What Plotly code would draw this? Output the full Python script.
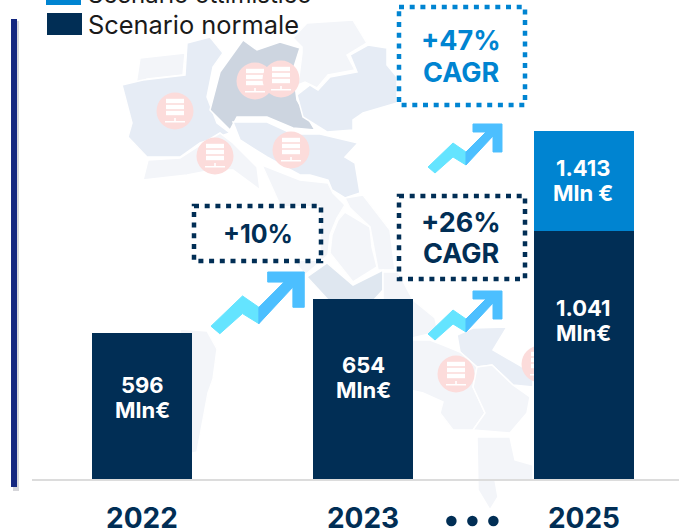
import plotly.graph_objects as go

W, H = 679, 532
FONT = "Inter, 'Open Sans', sans-serif"
NAVY = "#012e55"
BLUE = "#0084d1"

years = ["2022", "2023", "2025"]
normal_drawn = [596, 734, 1010]
optimistic_drawn = [0, 0, 405]
series_names = ["Scenario normale", "Scenario ottimistico"]
bar_labels = [["596", "Mln€"], ["654", "Mln€"], ["1.041", "Mln€"], ["1.413", "Mln €"]]
growth_labels = [["+10%"], ["+26%", "CAGR"], ["+47%", "CAGR"]]

Y_SCALE = 0.2466  # pixels per unit on the value axis
Y_MIN, Y_MAX = -52 / Y_SCALE, 480 / Y_SCALE


def px(x):
    return x / W


def py(y):
    return 1 - y / H


def poly(points, fill, line="white", lw=1.5, layer="below"):
    d = "M" + " L".join(f"{px(x):.5f},{py(y):.5f}" for x, y in points) + " Z"
    return dict(type="path", xref="paper", yref="paper", path=d, fillcolor=fill,
                line=dict(color=line, width=lw), layer=layer)


def rect(x0, y0, x1, y1, fill, line=None, lw=0, layer="below", dash=None):
    ln = dict(width=lw)
    if line:
        ln["color"] = line
    if dash:
        ln["dash"] = dash
    return dict(type="rect", xref="paper", yref="paper", x0=px(x0), x1=px(x1),
                y0=py(y0), y1=py(y1), fillcolor=fill, line=ln, layer=layer)


def circle(cx, cy, r, fill, layer="below"):
    return dict(type="circle", xref="paper", yref="paper", x0=px(cx - r), x1=px(cx + r),
                y0=py(cy - r), y1=py(cy + r), fillcolor=fill, line=dict(width=0), layer=layer)


PALE = "#f3f5f9"
MID = "#e6ecf5"
DARK = "#cdd5e0"
regions = [
    ([(140, 58), (185, 53), (183, 75), (147, 79), (136, 85)], PALE),
    ([(122, 85), (143, 80), (185, 75), (187, 43), (210, 37), (223, 53), (213, 67), (207, 97), (217, 123), (230, 133), (200, 143), (180, 157), (147, 157), (128, 137), (132, 123)], MID),
    ([(210, 110), (220, 72), (243, 40), (257, 50), (280, 42), (300, 48), (293, 70), (297, 100), (315, 130), (293, 128), (267, 117), (237, 117), (230, 130)], DARK),
    ([(302, 47), (293, 38), (307, 23), (353, 20), (367, 43), (347, 55), (355, 70), (328, 75), (317, 88), (305, 82), (298, 85), (302, 53)], PALE),
    ([(297, 95), (310, 85), (318, 90), (330, 77), (357, 72), (350, 55), (368, 45), (387, 48), (387, 65), (397, 77), (397, 103), (363, 113), (353, 120), (353, 130), (327, 132), (303, 117)], MID),
    ([(233, 122), (267, 122), (293, 134), (320, 134), (358, 143), (345, 157), (355, 163), (360, 193), (345, 198), (332, 190), (328, 180), (310, 175), (300, 175), (267, 157), (240, 140)], MID),
    ([(143, 180), (148, 160), (180, 158), (200, 145), (220, 133), (233, 143), (257, 167), (260, 190), (233, 170), (213, 170), (187, 175)], PALE),
    ([(262, 165), (300, 180), (328, 183), (333, 193), (345, 205), (337, 218), (330, 235), (328, 255), (305, 275), (295, 262), (280, 205)], PALE),
    ([(338, 220), (345, 212), (370, 227), (372, 247), (377, 267), (353, 282), (330, 253), (332, 235)], PALE),
    ([(345, 198), (363, 195), (390, 230), (395, 270), (378, 270), (370, 227), (350, 208)], PALE),
    ([(307, 277), (327, 263), (353, 285), (383, 270), (383, 290), (372, 302), (330, 302)], "#dfe7f0"),
    ([(383, 272), (398, 272), (413, 300), (435, 318), (438, 332), (412, 338), (383, 320)], PALE),
    ([(457, 335), (473, 328), (507, 327), (493, 350), (533, 373), (533, 387), (513, 385), (492, 365), (477, 367), (460, 352)], "#e9eef6"),
    ([(410, 340), (430, 340), (443, 345), (460, 352), (477, 367), (473, 387), (485, 413), (473, 430), (453, 430), (440, 413), (443, 402), (423, 393), (410, 390)], PALE),
    ([(477, 367), (492, 365), (513, 385), (530, 397), (527, 413), (510, 433), (473, 430), (485, 413), (473, 387)], PALE),
    ([(477, 437), (510, 437), (515, 460), (533, 465), (533, 480), (495, 480), (498, 497), (490, 510), (478, 490)], PALE),
    ([(180, 329), (207, 331), (217, 349), (213, 379), (208, 393), (197, 452), (180, 456)], PALE),
]
server_centres = [(175, 111), (255, 81), (281, 79), (215, 156), (291, 150), (456, 374), (540, 364)]

shapes = []
for pts, col in regions:
    shapes.append(poly(pts, col))
for cx, cy in server_centres:
    shapes.append(circle(cx, cy, 18.5, "#fcdcdb"))
    for dy in (-10, -4, 2):
        shapes.append(rect(cx - 9, cy + dy - 2.2, cx + 9, cy + dy + 2.2, "white"))
    shapes.append(rect(cx - 10, cy + 10, cx + 10, cy + 11.5, "white"))
    shapes.append(rect(cx - 0.8, cy + 7, cx + 0.8, cy + 10, "white"))

# left rule with its shadow
shapes.append(rect(13, 21, 19, 491, "#d6d6da"))
shapes.append(rect(11, 19, 17, 487, "#14277f"))

# legend swatches
shapes.append(rect(46, -5, 81, 5, BLUE, layer="above"))
shapes.append(rect(47, 13, 82, 35, NAVY, layer="above"))

# dotted callouts
DASH = "5px,5.7px"
shapes.append(rect(194, 206, 321, 261, "white", NAVY, 4.5, "above", DASH))
shapes.append(rect(399, 196, 525, 279, "white", NAVY, 4.5, "above", DASH))
shapes.append(rect(399, 7, 525, 105, "white", BLUE, 4.5, "above", DASH))


def arrow(x0, y0, s):
    cyan = [(0, 43), (25, 19), (38, 28), (38, 41), (25, 33), (7, 49)]
    blue = [(38, 28), (58, 8), (45, 8), (45, 0), (74, 0), (74, 28), (65, 28), (65, 12), (38, 41)]
    out = []
    for pts, col in ((cyan, "#64e4ff"), (blue, "#4cbfff")):
        out.append(poly([(x0 + a * s, y0 + b * s) for a, b in pts], col, col, 1, "above"))
    return out


shapes += arrow(428, 291, 1)
shapes += arrow(428, 124, 1)
shapes += arrow(211, 272, 1.26)


def note(x, y, text, size, color):
    return dict(xref="paper", yref="paper", x=px(x), y=py(y), text=f"<b>{text}</b>",
                showarrow=False, xanchor="center", yanchor="middle",
                font=dict(family=FONT, size=size, color=color))


def lines(x, y_first, step, parts, size, color):
    return [note(x, y_first + i * step, part, size, color) for i, part in enumerate(parts)]


annotations = []
annotations += lines(142, 385, 25, bar_labels[0], 22, "white")
annotations += lines(363, 365, 25, bar_labels[1], 22, "white")
annotations += lines(583, 308, 25, bar_labels[2], 22, "white")
annotations += lines(583, 168, 25, bar_labels[3], 22, "white")
annotations += lines(258, 234, 31, growth_labels[0], 25, NAVY)
annotations += lines(461, 222, 31, growth_labels[1], 27, NAVY)
annotations += lines(461, 41, 31, growth_labels[2], 27, BLUE)
annotations.append(dict(xref="paper", yref="paper", x=px(86), y=py(25), text=series_names[0], showarrow=False,
                        xanchor="left", yanchor="middle", font=dict(family=FONT, size=25.4, color="#1a1a1a")))
# The upper legend entry is cut by the top of the frame, as in the source picture.
annotations.append(dict(xref="x", yref="y", x=(86 - 142) / 221, y=Y_MAX - 0.01, yshift=6, text=series_names[1],
                        showarrow=False, xanchor="left", yanchor="middle",
                        font=dict(family=FONT, size=24, color="#1a1a1a")))

fig = go.Figure()
fig.add_bar(x=[0, 1, 2], y=normal_drawn, name=series_names[0], marker=dict(color=NAVY, line=dict(width=0)),
            width=0.455, hoverinfo="skip")
fig.add_bar(x=[0, 1, 2], y=optimistic_drawn, name=series_names[1], marker=dict(color=BLUE, line=dict(width=0)),
            width=0.455, hoverinfo="skip")
fig.add_scatter(x=[1.4, 1.495, 1.59], y=[-166, -166, -166], mode="markers", cliponaxis=False,
                marker=dict(color=NAVY, size=10.5), hoverinfo="skip")

fig.update_layout(
    width=W, height=H, barmode="stack", showlegend=False,
    paper_bgcolor="white", plot_bgcolor="rgba(0,0,0,0)",
    margin=dict(l=0, r=0, t=0, b=0),
    shapes=shapes, annotations=annotations,
    xaxis=dict(domain=[32 / W, 1], range=[-0.4977, 2.4299], tickvals=[0, 1, 2], ticktext=years,
               anchor="free", position=52 / H, automargin=False,
               showgrid=False, zeroline=False, showline=True, linecolor="#dcdcdc", linewidth=2,
               ticks="outside", ticklen=13, tickcolor="rgba(0,0,0,0)",
               tickfont=dict(family=FONT, size=28, color=NAVY, weight="bold")),
    yaxis=dict(domain=[0, 1], range=[Y_MIN, Y_MAX], visible=False, automargin=False),
)
fig.write_html("out.html", config={"displayModeBar": False},
               post_script="document.body.style.margin='0';")
